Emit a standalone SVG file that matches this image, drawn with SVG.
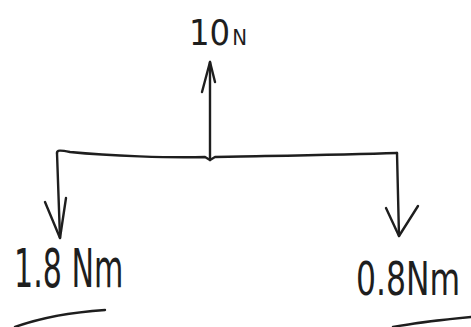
<svg xmlns="http://www.w3.org/2000/svg" width="471" height="327" viewBox="0 0 471 327">
<style>
.ln{fill:none;stroke:#1e1e1e;stroke-width:2.4;stroke-linecap:round;stroke-linejoin:round}
.tx{font-family:"DejaVu Sans Condensed","Liberation Sans",sans-serif;font-weight:300;fill:#1e1e1e}
</style>
<rect width="471" height="327" fill="#ffffff"/>
<g id="connectors">
<path class="ln" d="M57,153 C57,150 60,150 70,152 C110,156 170,158 205,157 L210,160 L215,157 C260,156 340,155 397,153"/>
<path class="ln" d="M210,160 L210,62"/>
<path class="ln" d="M202,92 L210,62 L215,82"/>
<path class="ln" d="M57,153 L60,238"/>
<path class="ln" d="M45,202 L60,238 L66,198"/>
<path class="ln" d="M397,153 L399,236"/>
<path class="ln" d="M386,208 L399,236 L418,206"/>
<path class="ln" d="M15,327 C40,318 75,312 105,310"/>
<path class="ln" d="M393,327 C420,322 450,319 471,317"/>
</g>
<g id="force-10N">
<text class="tx" x="189" y="45" font-size="36">10<tspan font-size="22" dx="2">N</tspan></text>
</g>
<g id="moment-left">
<text class="tx" transform="translate(14,287) scale(0.62,1)" x="0" y="0" font-size="54">1.8 Nm</text>
</g>
<g id="moment-right">
<text class="tx" transform="translate(356,295) scale(0.76,1)" x="0" y="0" font-size="46">0.8Nm</text>
</g>
</svg>
